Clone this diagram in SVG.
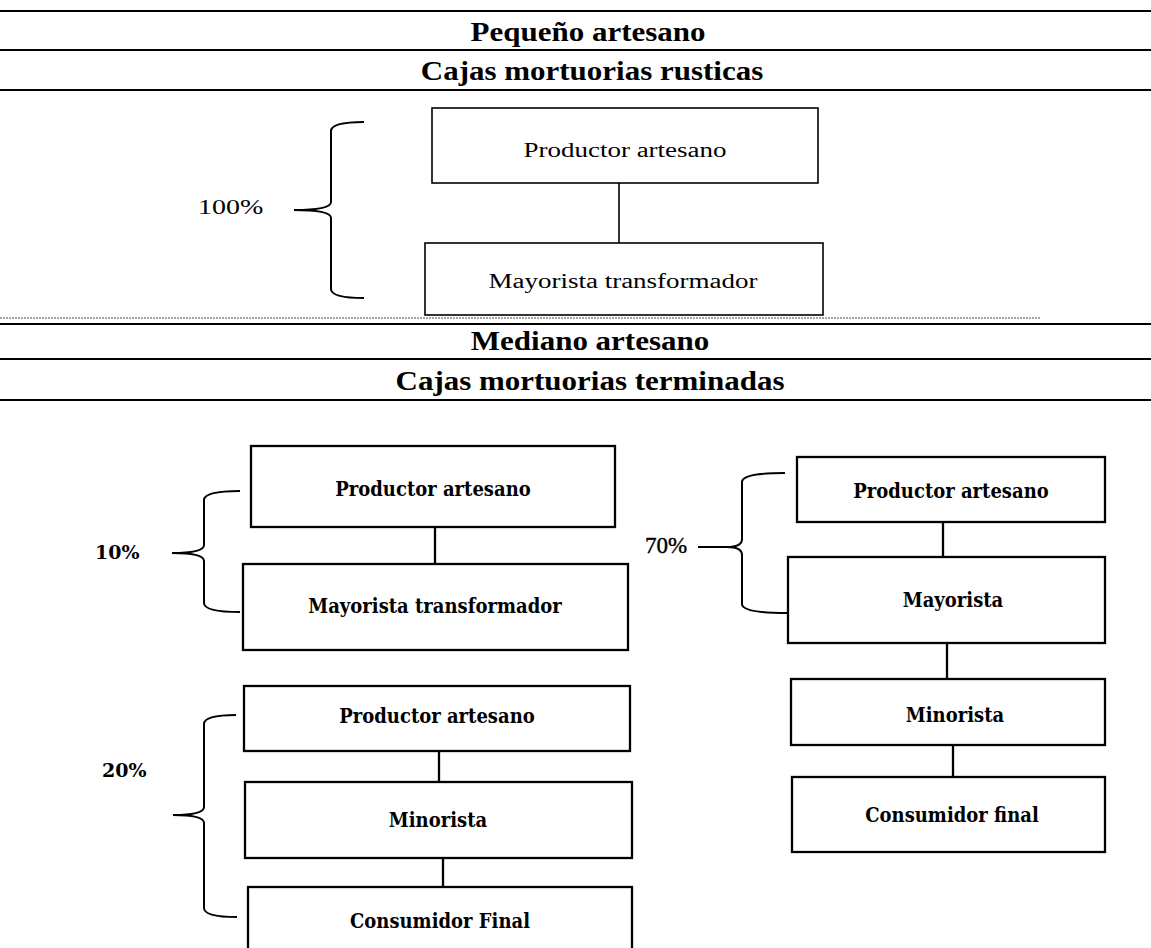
<svg xmlns="http://www.w3.org/2000/svg" width="1151" height="948" viewBox="0 0 1151 948">
<style>
.hl{stroke:#000;stroke-width:2}
.hd{font-family:"Liberation Serif",serif;font-weight:bold;font-size:31px;text-anchor:middle}
.box1{fill:#fff;stroke:#000;stroke-width:1.6}
.box2{fill:#fff;stroke:#000;stroke-width:2.3}
.t1{font-family:"Liberation Serif",serif;font-size:27px;text-anchor:middle}
.t2{font-family:"DejaVu Serif",serif;font-weight:bold;font-size:18px;text-anchor:middle}
.pct1{font-family:"Liberation Serif",serif;font-size:28px}
.pct2{font-family:"DejaVu Serif",serif;font-weight:bold;font-size:19px}
.pct3{font-family:"Liberation Serif",serif;font-size:23px;stroke:#000;stroke-width:0.4}
.br{fill:none;stroke:#000;stroke-width:2}
.cn1{stroke:#000;stroke-width:1.6}
.cn2{stroke:#000;stroke-width:2.3}
</style>
<rect width="1151" height="948" fill="#fff"/>
<g id="headers">
<line class="hl" x1="0" y1="11" x2="1151" y2="11"/>
<text class="hd" transform="translate(588,41) scale(1,0.85)">Pequeño artesano</text>
<line class="hl" x1="0" y1="50" x2="1151" y2="50"/>
<text class="hd" transform="translate(592,80) scale(1,0.85)">Cajas mortuorias rusticas</text>
<line class="hl" x1="0" y1="90" x2="1151" y2="90"/>
<line x1="0" y1="318" x2="1040" y2="318" stroke="#888" stroke-width="1.5" stroke-dasharray="2 1"/>
<line class="hl" x1="0" y1="324" x2="1151" y2="324"/>
<text class="hd" transform="translate(590,350) scale(1,0.85)">Mediano artesano</text>
<line class="hl" x1="0" y1="359" x2="1151" y2="359"/>
<text class="hd" transform="translate(590,390) scale(1,0.85)">Cajas mortuorias terminadas</text>
<line class="hl" x1="0" y1="400" x2="1151" y2="400"/>
</g>
<g id="connectors">
<line class="cn1" x1="619" y1="183" x2="619" y2="243"/>
<line class="cn2" x1="435" y1="527" x2="435" y2="564"/>
<line class="cn2" x1="439" y1="751" x2="439" y2="782"/>
<line class="cn2" x1="443" y1="858" x2="443" y2="887"/>
<line class="cn2" x1="943" y1="522" x2="943" y2="557"/>
<line class="cn2" x1="947" y1="643" x2="947" y2="679"/>
<line class="cn2" x1="953" y1="745" x2="953" y2="777"/>
</g>
<g id="brace100">
<path class="br" d="M364 122 Q331 122 331 131 L331 202 Q331 210 294 210 Q331 210 331 218 L331 289 Q331 298 364 298"/>
<text class="pct1" transform="translate(198,214) scale(1,0.78)">100%</text>
</g>
<g id="brace10">
<path class="br" d="M240 491 Q204 491 204 500 L204 545 Q204 553 172 553 Q204 553 204 561 L204 603 Q204 612 240 612"/>
<text class="pct2" x="95" y="559">10%</text>
</g>
<g id="brace20">
<path class="br" d="M236 715 Q204 715 204 724 L204 807 Q204 815 173 815 Q204 815 204 823 L204 908 Q204 917 237 917"/>
<text class="pct2" x="102" y="777">20%</text>
</g>
<g id="brace70">
<path class="br" d="M785 473 Q742 473 742 482 L742 539 Q742 547 727 547 L698 547 M727 547 Q742 547 742 555 L742 604 Q742 613 787 613"/>
<text class="pct3" x="645" y="553">70%</text>
</g>
<g id="n1"><rect class="box1" x="432" y="108" width="386" height="75"/><text class="t1" transform="translate(625,157) scale(1,0.75)">Productor artesano</text></g>
<g id="n2"><rect class="box1" x="425" y="243" width="398" height="72"/><text class="t1" transform="translate(623,288) scale(1,0.75)">Mayorista transformador</text></g>
<g id="n3"><rect class="box2" x="251" y="446" width="364" height="81"/><text class="t2" transform="translate(433,496) scale(1,1.12)">Productor artesano</text></g>
<g id="n4"><rect class="box2" x="243" y="564" width="385" height="86"/><text class="t2" transform="translate(435,613) scale(1,1.12)">Mayorista transformador</text></g>
<g id="n5"><rect class="box2" x="244" y="686" width="386" height="65"/><text class="t2" transform="translate(437,723) scale(1,1.12)">Productor artesano</text></g>
<g id="n6"><rect class="box2" x="245" y="782" width="387" height="76"/><text class="t2" transform="translate(438,827) scale(1,1.12)">Minorista</text></g>
<g id="n7"><rect class="box2" x="248" y="887" width="384" height="80"/><text class="t2" transform="translate(440,928) scale(1,1.12)">Consumidor Final</text></g>
<g id="n8"><rect class="box2" x="797" y="457" width="308" height="65"/><text class="t2" transform="translate(951,498) scale(1,1.12)">Productor artesano</text></g>
<g id="n9"><rect class="box2" x="788" y="557" width="317" height="86"/><text class="t2" transform="translate(953,607) scale(1,1.12)">Mayorista</text></g>
<g id="n10"><rect class="box2" x="791" y="679" width="314" height="66"/><text class="t2" transform="translate(955,722) scale(1,1.12)">Minorista</text></g>
<g id="n11"><rect class="box2" x="792" y="777" width="313" height="75"/><text class="t2" transform="translate(952,822) scale(1,1.12)">Consumidor final</text></g>
</svg>
